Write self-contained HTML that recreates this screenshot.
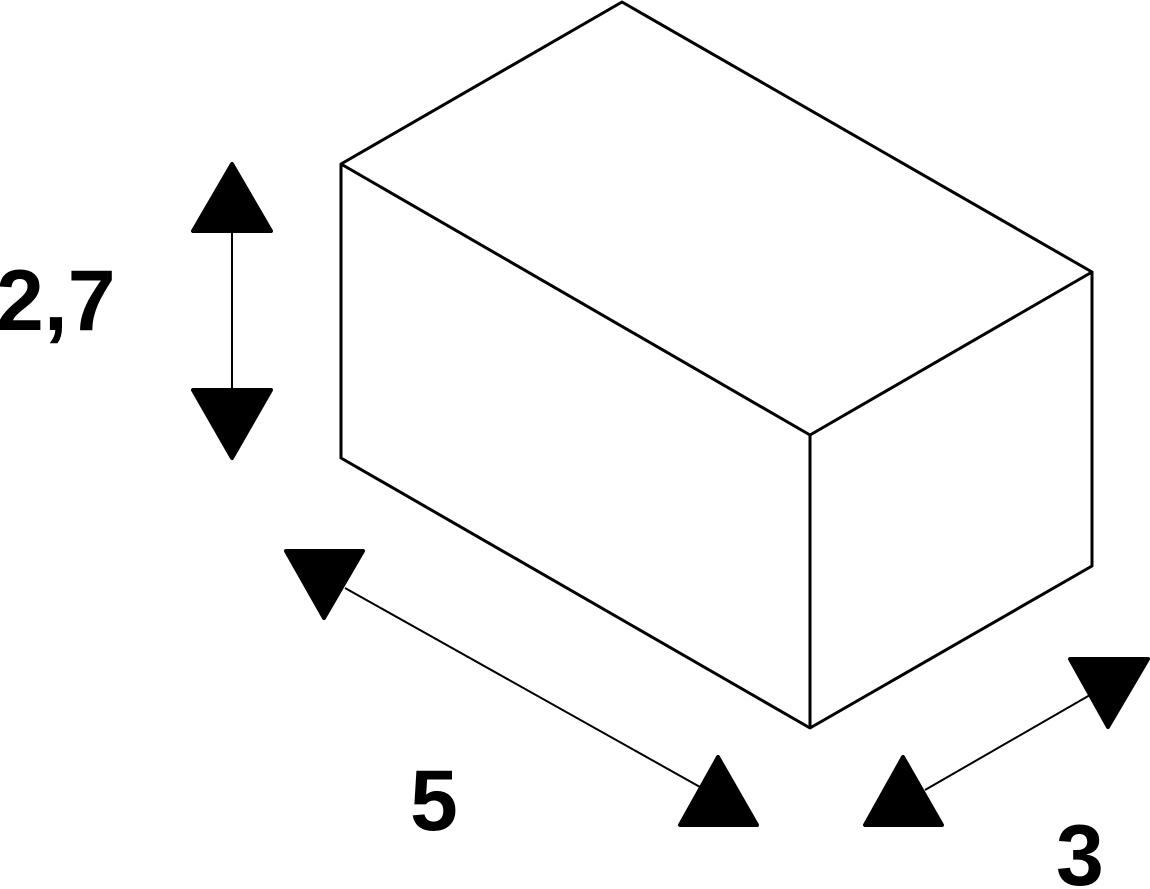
<!DOCTYPE html>
<html><head><style>body{margin:0;background:#fff}svg{display:block}</style></head><body>
<svg width="1150" height="889" viewBox="0 0 1150 889" xmlns="http://www.w3.org/2000/svg">
<g fill="none" stroke="#000" stroke-width="3" stroke-linejoin="round">
<polygon points="622,2 1092,272 810,435 341,164"/>
<polyline points="341,164 341,458 810,728 1092,566 1092,272"/>
<line x1="810" y1="435" x2="810" y2="728"/>
</g>
<g stroke="#000" stroke-width="2">
<line x1="232" y1="231" x2="232" y2="390"/>
<line x1="345" y1="588" x2="700" y2="787"/>
<line x1="925" y1="790" x2="1090" y2="695"/>
</g>
<g fill="#000" stroke="#000" stroke-width="4" stroke-linejoin="round">
<polygon points="232,164 193,231 271,231"/>
<polygon points="193,390 271,390 232,458"/>
<polygon points="286,551 363,551 324,618"/>
<polygon points="718,757 680,825 757,825"/>
<polygon points="903,757 865,825 942,825"/>
<polygon points="1070,659 1148,659 1108,727"/>
</g>
<g font-family="Liberation Sans, sans-serif" font-weight="bold" font-size="86" fill="#000">
<text x="-4" y="330">2,7</text>
<text x="410" y="830">5</text>
<text x="1056" y="885">3</text>
</g>
</svg>
</body></html>
